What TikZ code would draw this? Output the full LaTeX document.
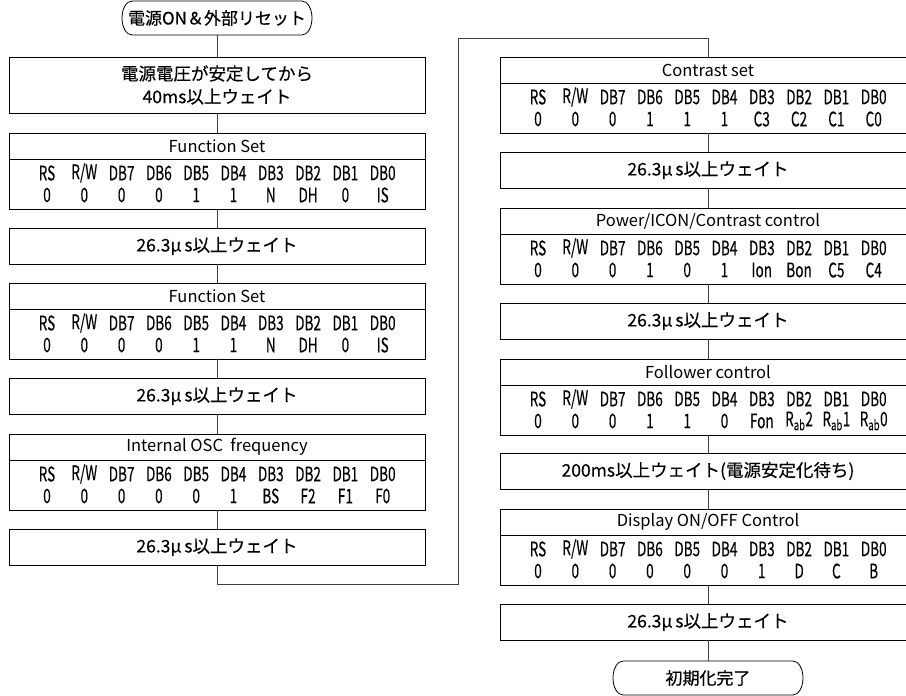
\documentclass[tikz,border=0pt]{standalone}
\usepackage{fontspec}
\setmainfont{Noto Sans CJK JP}[FakeBold=0.3]
\newfontfamily\titlefont{Noto Sans CJK JP}
\newfontfamily\regfont[FakeStretch=0.68,FakeBold=0.15]{Noto Sans CJK JP}
\usetikzlibrary{calc}

\tikzset{
  box/.style={draw, line width=0.8pt, minimum width=416pt, inner sep=0pt, outer sep=0pt},
  wait/.style={box, minimum height=36pt, align=center, font=\fontsize{17.5}{23}\selectfont},
  regtitle/.style={box, minimum height=26pt, font=\titlefont\fontsize{16.5}{18}\selectfont},
  regdata/.style={box, minimum height=50pt, anchor=north},
  cell/.style={inner sep=0pt, font=\regfont\fontsize{20}{20}\selectfont},
  term/.style={minimum width=190pt, minimum height=34pt, inner sep=0pt, outer sep=0pt, font=\fontsize{17}{20}\selectfont},
  link/.style={draw=black!75, line width=0.8pt},
}

% header and values of one register box
\newcommand{\regrows}[2]{%
  \foreach \v [count=\i from 0] in {RS,R/W,DB7,DB6,DB5,DB4,DB3,DB2,DB1,DB0}
    \node[cell] (#1h\i) at ($(#1.north west)+(38+37.3*\i,14)$) {\v};
  \foreach \v [count=\i from 0] in {#2}
    \node[cell] (#1v\i) at ($(#1.north west)+(38+37.3*\i,36)$) {\v};
}
% terminal outline with elliptic ends
\newcommand{\termline}[1]{%
  \draw[line width=0.8pt] ([xshift=10pt]#1.north west) -- ([xshift=-10pt]#1.north east)
    arc[start angle=90, end angle=-90, x radius=10pt, y radius=17pt]
    -- ([xshift=10pt]#1.south west)
    arc[start angle=270, end angle=90, x radius=10pt, y radius=17pt] -- cycle;
}

\begin{document}
\begin{tikzpicture}[x=1pt,y=-1pt]
  \useasboundingbox (0,0) rectangle (906,696);
  \clip (0,0) rectangle (906,696);

  % left column
  \node[term] (start) at (217,18) {電源ON＆外部リセット};
  \termline{start}
  \node[wait, minimum height=56pt] (w0) at (217,85) {電源電圧が安定してから\\40ms以上ウェイト};
  \node[regtitle] (fs1) at (217,146) {Function Set};
  \node[regdata] (fs1d) at (fs1.south) {};
  \regrows{fs1d}{0,0,0,0,1,1,N,DH,0,IS}
  \node[wait] (w1) at (217,246) {26.3μ\,s以上ウェイト};
  \node[regtitle] (fs2) at (217,296) {Function Set};
  \node[regdata] (fs2d) at (fs2.south) {};
  \regrows{fs2d}{0,0,0,0,1,1,N,DH,0,IS}
  \node[wait] (w2) at (217,396) {26.3μ\,s以上ウェイト};
  \node[regtitle] (osc) at (217,447) {Internal OSC\ \ frequency};
  \node[regdata] (oscd) at (osc.south) {};
  \regrows{oscd}{0,0,0,0,0,1,BS,F2,F1,F0}
  \node[wait] (w3) at (217,547) {26.3μ\,s以上ウェイト};

  % right column
  \node[regtitle] (cs) at (708,70) {Contrast set};
  \node[regdata] (csd) at (cs.south) {};
  \regrows{csd}{0,0,0,1,1,1,C3,C2,C1,C0}
  \node[wait] (w4) at (708,170) {26.3μ\,s以上ウェイト};
  \node[regtitle] (pic) at (708,221) {Power/ICON/Contrast control};
  \node[regdata] (picd) at (pic.south) {};
  \regrows{picd}{0,0,0,1,0,1,Ion,Bon,C5,C4}
  \node[wait] (w5) at (708,321) {26.3μ\,s以上ウェイト};
  \node[regtitle] (fol) at (708,372) {Follower control};
  \node[regdata] (fold) at (fol.south) {};
  \regrows{fold}{0,0,0,1,1,0,Fon,R\textsubscript{ab}2,R\textsubscript{ab}1,R\textsubscript{ab}0}
  \node[wait] (w6) at (708,471) {200ms以上ウェイト(電源安定化待ち)};
  \node[regtitle] (disp) at (708,522) {Display ON/OFF Control};
  \node[regdata] (dispd) at (disp.south) {};
  \regrows{dispd}{0,0,0,0,0,0,1,D,C,B}
  \node[wait] (w7) at (708,622) {26.3μ\,s以上ウェイト};
  \node[term] (stop) at (708,678) {初期化完了};
  \termline{stop}

  % connectors
  \draw[link] (start) -- (w0);
  \draw[link] (w0) -- (fs1);
  \draw[link] (fs1d) -- (w1);
  \draw[link] (w1) -- (fs2);
  \draw[link] (fs2d) -- (w2);
  \draw[link] (w2) -- (osc);
  \draw[link] (oscd) -- (w3);
  \coordinate (bl) at (458,584);
  \coordinate (tl) at (458,38);
  \draw[link] (w3.south) |- (bl) -- (tl) -| (cs.north);
  \draw[link] (csd) -- (w4);
  \draw[link] (w4) -- (pic);
  \draw[link] (picd) -- (w5);
  \draw[link] (w5) -- (fol);
  \draw[link] (fold) -- (w6);
  \draw[link] (w6) -- (disp);
  \draw[link] (dispd) -- (w7);
  \draw[link] (w7) -- (stop);
\end{tikzpicture}
\end{document}
